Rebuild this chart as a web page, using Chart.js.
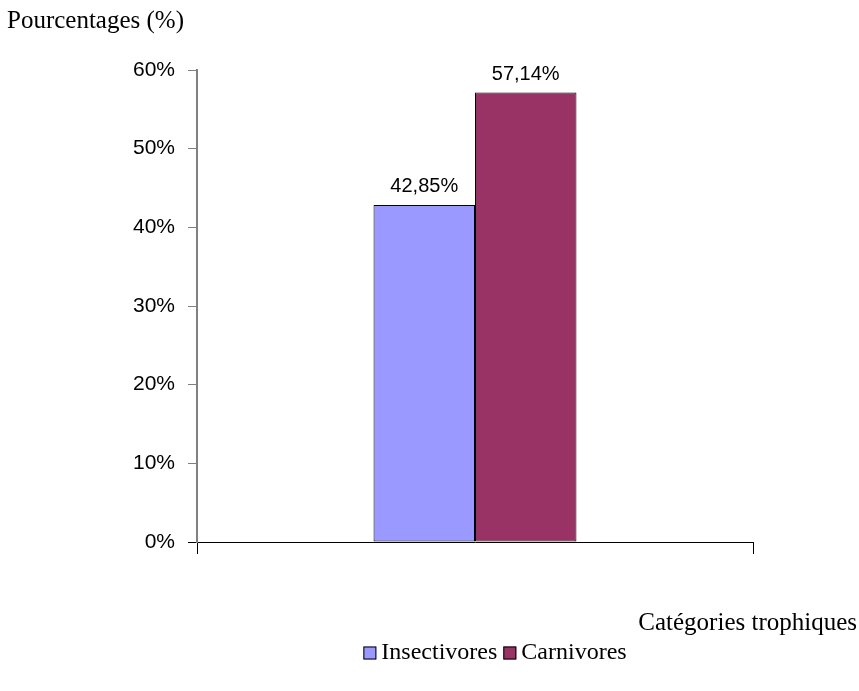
<!DOCTYPE html>
<html>
<head>
<meta charset="utf-8">
<script src="https://cdn.jsdelivr.net/npm/chart.js@4/dist/chart.umd.min.js"></script>
<style>
  html, body { margin: 0; padding: 0; background: #fff; }
  #wrap { width: 859px; height: 691px; }
</style>
</head>
<body>
<div id="wrap"><canvas id="graphe"></canvas></div>
<script>
var categories = ['']
var seriesNames = ['Insectivores', 'Carnivores']
var insectivores = [42.85]
var carnivores = [57.14]
var valueLabels = ['42,85%', '57,14%']
var yTicks = [0, 10, 20, 30, 40, 50, 60]

var serif = '"Liberation Serif", "Times New Roman", serif'
var sans = '"Liberation Sans", Arial, sans-serif'

// titres des axes, etiquettes des barres et legende
var extras = {
  id: 'extras',
  afterDatasetsDraw: function(chart) {
    var c = chart.ctx
    c.save()
    c.fillStyle = '#000'
    c.font = '20px ' + sans
    c.textAlign = 'center'
    c.textBaseline = 'bottom'
    chart.data.datasets.forEach(function(ds, i) {
      var bar = chart.getDatasetMeta(i).data[0]
      c.fillText(valueLabels[i], bar.x, bar.y - 8)
    })
    c.font = '25px ' + serif
    c.textBaseline = 'middle'
    c.textAlign = 'left'
    c.fillText('Pourcentages (%)', 7, 21)
    c.textAlign = 'right'
    c.fillText('Catégories trophiques', 857, 623)

    // legende
    c.font = '24px ' + serif
    c.textAlign = 'left'
    var box = 13, gap = 5, sep = 6
    var total = 0
    chart.data.datasets.forEach(function(ds) {
      total += box + gap + c.measureText(ds.label).width + sep
    })
    total -= sep
    var x = 495 - total / 2
    var y = 653
    chart.data.datasets.forEach(function(ds) {
      c.fillStyle = ds.backgroundColor
      c.fillRect(x, y - box / 2, box, box)
      c.strokeStyle = '#000'
      c.lineWidth = 1
      c.strokeRect(x + 0.5, y - box / 2 + 0.5, box - 1, box - 1)
      c.fillStyle = '#000'
      c.fillText(ds.label, x + box + gap, y)
      x += box + gap + c.measureText(ds.label).width + sep
    })
    c.restore()
  }
}

const ctx = document.getElementById('graphe')

new Chart(ctx, {
  type: 'bar',
  data: {
    labels: categories,
    datasets: [{
      label: seriesNames[0],
      data: insectivores,
      backgroundColor: '#9999FF',
      borderColor: '#000',
      borderWidth: 1,
      borderSkipped: false
    }, {
      label: seriesNames[1],
      data: carnivores,
      backgroundColor: '#993366',
      borderColor: '#000',
      borderWidth: 1,
      borderSkipped: false
    }]
  },
  options: {
    responsive: true,
    maintainAspectRatio: false,
    animation: false,
    categoryPercentage: 0.365,
    barPercentage: 1,
    layout: { padding: { left: 0, top: 70, right: 106, bottom: 0 } },
    plugins: {
      legend: { display: false },
      tooltip: { enabled: false }
    },
    scales: {
      x: {
        grid: { offset: true, drawOnChartArea: false, drawTicks: true, tickLength: 12, color: '#000' },
        border: { color: '#000', width: 1 },
        ticks: { display: false },
        afterFit: function(s) { s.height = 149 }
      },
      y: {
        min: 0,
        max: 60,
        afterBuildTicks: function(s) { s.ticks = yTicks.map(function(v) { return { value: v } }) },
        grid: {
          drawOnChartArea: false,
          drawTicks: true,
          tickLength: 9,
          color: function(g) { return g.tick && g.tick.value === 0 ? '#000' : '#808080' }
        },
        border: { color: '#808080', width: 2 },
        ticks: {
          color: '#000',
          padding: 13,
          font: { family: sans, size: 21 },
          callback: function(v) { return v + '%' }
        },
        afterFit: function(s) { s.width = 197 }
      }
    }
  },
  plugins: [extras]
})
</script>
</body>
</html>
